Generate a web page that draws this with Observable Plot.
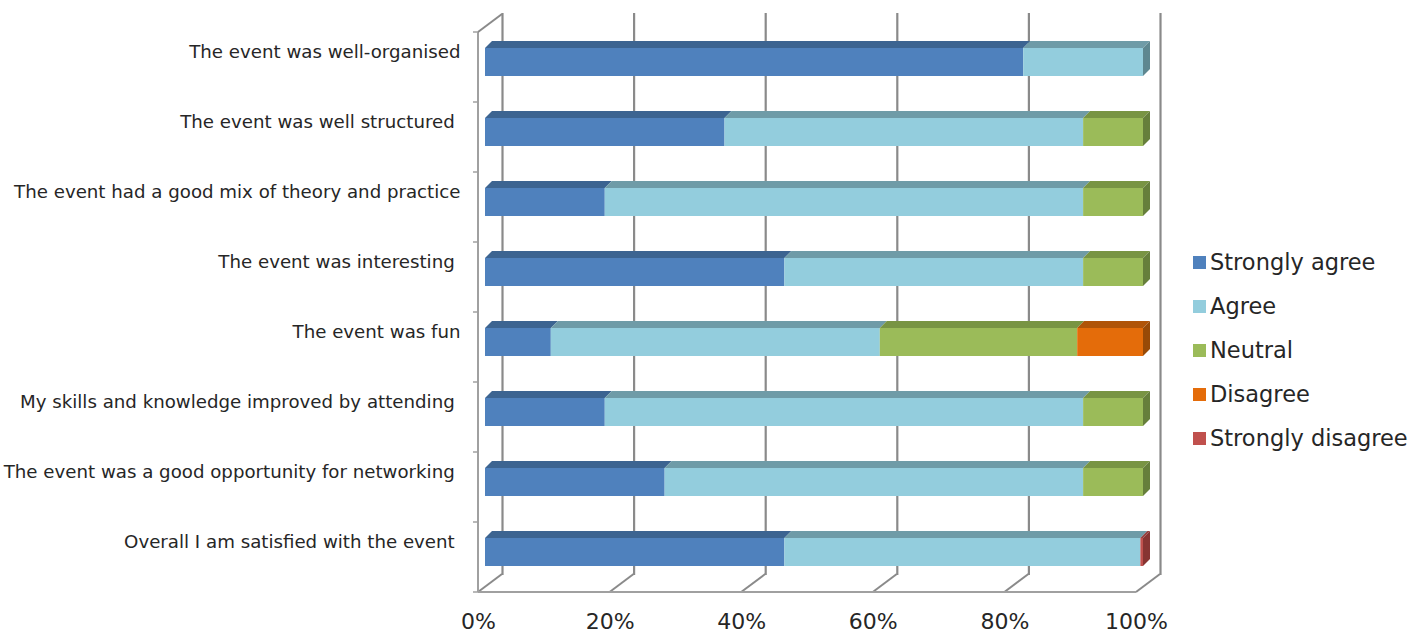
<!DOCTYPE html>
<html><head><meta charset="utf-8">
<script src="https://cdn.jsdelivr.net/npm/d3@7"></script>
<script src="https://cdn.jsdelivr.net/npm/@observablehq/plot@0.6"></script>
<style>
body{margin:0;background:#fff;}
#wrap{position:relative;width:1411px;height:634px;overflow:hidden;}
#legend{position:absolute;left:1193px;top:240px;font-family:"DejaVu Sans";font-size:22.5px;color:#262626;}
.item{display:flex;align-items:center;height:44px;white-space:nowrap;}
.sw{width:13px;height:13px;margin-right:4px;flex:none;}
</style></head><body><div id="wrap"></div>
<script>
const categories = [
  "The event was well-organised",
  "The event was well structured ",
  "The event had a good mix of theory and practice",
  "The event was interesting ",
  "The event was fun",
  "My skills and knowledge improved by attending ",
  "The event was a good opportunity for networking ",
  "Overall I am satisfied with the event "
];
const series = ["Strongly agree", "Agree", "Neutral", "Disagree", "Strongly disagree"];
const stronglyAgree    = [81.8, 36.4, 18.2, 45.5, 10, 18.2, 27.3, 45.5];
const agree            = [18.2, 54.5, 72.7, 45.4, 50, 72.7, 63.6, 54.1];
const neutral          = [0,    9.1,  9.1,  9.1,  30, 9.1,  9.1,  0];
const disagree         = [0,    0,    0,    0,    10, 0,    0,    0];
const stronglyDisagree = [0,    0,    0,    0,    0,  0,    0,    0.4];
const xTicks = [0, 20, 40, 60, 80, 100];

const frontColors = ["#4F81BD", "#93CDDD", "#9BBB59", "#E46C0A", "#C0504D"];
const topColors   = ["#3C6491", "#6F9BA7", "#789443", "#B05408", "#953D3B"];
const sideColors  = ["#345882", "#5E8790", "#667F3B", "#984A07", "#873432"];

const values = [stronglyAgree, agree, neutral, disagree, stronglyDisagree];
const rows = [];
categories.forEach((c, i) => {
  let acc = 0;
  series.forEach((s, j) => {
    const v = values[j][i];
    rows.push({category: c, series: s, k: j, x1: acc, x2: acc + v, v});
    acc += v;
  });
});
const segs = rows.filter(r => r.v > 0);

const D = 7; // bar depth offset
const FRONT = [-7, 5], BACK = [17, -13];
const gridColor = "#8a8a8a";

function bw(y) { return typeof y.bandwidth === "function" ? y.bandwidth() : 28; }

function walls(index, {x, y}) {
  const g = d3.create("svg:g").attr("fill", "none");
  const b = bw(y);
  const step = typeof y.step === "function" ? y.step() : b / 0.4;
  const top0 = y(categories[0]) - step * 0.3;
  const bot0 = y(categories[categories.length - 1]) + b + step * 0.3;
  const fx = v => x(v) + FRONT[0];
  const bx = v => x(v) + BACK[0];
  const fyTop = top0 + FRONT[1], fyBot = bot0 + FRONT[1];
  const byTop = top0 + BACK[1], byBot = bot0 + BACK[1];
  for (const t of xTicks) {
    g.append("line").attr("x1", fx(t)).attr("y1", fyBot).attr("x2", bx(t)).attr("y2", byBot)
      .attr("stroke", gridColor).attr("stroke-width", 2);
  }
  g.append("line").attr("x1", fx(0)).attr("y1", fyBot).attr("x2", fx(100)).attr("y2", fyBot)
    .attr("stroke", "#a0a0a0").attr("stroke-width", 2);
  g.append("line").attr("x1", fx(0)).attr("y1", fyTop).attr("x2", fx(0)).attr("y2", fyBot)
    .attr("stroke", "#a0a0a0").attr("stroke-width", 2);
  g.append("line").attr("x1", fx(0)).attr("y1", fyTop).attr("x2", bx(0)).attr("y2", byTop)
    .attr("stroke", gridColor).attr("stroke-width", 2);
  for (let k = 0; k <= categories.length; k++) {
    const yy = fyTop + k * step;
    g.append("line").attr("x1", fx(0) - 5).attr("y1", yy).attr("x2", fx(0)).attr("y2", yy)
      .attr("stroke", "#a0a0a0").attr("stroke-width", 1.5);
  }
  return g.node();
}

function faces(index, {x, y}) {
  const g = d3.create("svg:g");
  const b = bw(y);
  for (const c of categories) {
    const rs = segs.filter(r => r.category === c);
    const y0 = y(c);
    for (const r of rs) {
      const a = x(r.x1), e = x(r.x2);
      g.append("path")
        .attr("d", `M${a},${y0}L${a + D},${y0 - D}L${e + D},${y0 - D}L${e},${y0}Z`)
        .attr("fill", topColors[r.k]);
    }
    const last = rs[rs.length - 1];
    const e = x(last.x2);
    g.append("path")
      .attr("d", `M${e},${y0}L${e + D},${y0 - D}L${e + D},${y0 + b - D}L${e},${y0 + b}Z`)
      .attr("fill", sideColors[last.k]);
  }
  return g.node();
}

const plot = Plot.plot({
  width: 1411,
  height: 634,
  marginLeft: 485,
  marginRight: 268,
  marginTop: 26,
  marginBottom: 46,
  style: {fontFamily: "DejaVu Sans", color: "#262626", background: "#fff"},
  x: {domain: [0, 100], axis: null},
  y: {domain: categories, paddingInner: 0.6, paddingOuter: 0.3, axis: null},
  color: {domain: series, range: frontColors},
  marks: [
    Plot.ruleX(xTicks, {x: d => d, dx: BACK[0], insetTop: -13, insetBottom: 13, stroke: gridColor, strokeWidth: 2.2, strokeOpacity: 1}),
    walls,
    Plot.barX(segs, {x1: "x1", x2: "x2", y: "category", fill: "series"}),
    faces,
    Plot.axisY({tickSize: 0, tickPadding: 25, dy: -10, fontSize: 18.2, fill: "#262626", label: null,
      tickFormat: d => d.replace(/ $/, "\u00a0")}),
    Plot.axisX({ticks: xTicks, tickFormat: d => d + "%", tickSize: 0, tickPadding: 25, dx: FRONT[0], fontSize: 22, fill: "#262626", label: null})
  ]
});
document.getElementById("wrap").appendChild(plot);

const legend = d3.select("#wrap").append("div").attr("id", "legend");
series.forEach((s, i) => {
  const it = legend.append("div").attr("class", "item");
  it.append("span").attr("class", "sw").style("background", frontColors[i]);
  it.append("span").text(s);
});
</script>
</body></html>
